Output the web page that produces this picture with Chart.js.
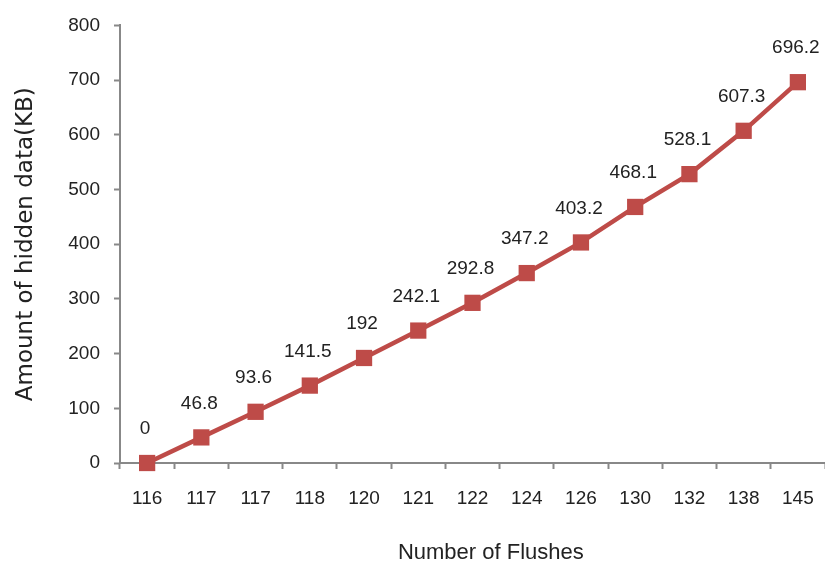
<!DOCTYPE html>
<html>
<head>
<meta charset="utf-8">
<script src="https://cdn.jsdelivr.net/npm/chart.js@4"></script>
<style>
  html, body { margin: 0; padding: 0; background: #fff; }
  #wrap { width: 825px; height: 567px; }
</style>
</head>
<body>
<div id="wrap"><canvas id="myChart"></canvas></div>
<script>
// data
let flushes = ['116', '117', '117', '118', '120', '121', '122', '124', '126', '130', '132', '138', '145'];
let hidden = [0, 46.8, 93.6, 141.5, 192, 242.1, 292.8, 347.2, 403.2, 468.1, 528.1, 607.3, 696.2];
let yTicks = [0, 100, 200, 300, 400, 500, 600, 700, 800];

let red = '#BE4B48';
let fontName = '"Liberation Sans", "DejaVu Sans", sans-serif';

// value labels above each marker
let valueLabels = {
    id: 'valueLabels',
    afterDatasetsDraw(chart) {
        let ctx = chart.ctx;
        let meta = chart.getDatasetMeta(0);
        ctx.save();
        ctx.font = '19px ' + fontName;
        ctx.fillStyle = '#222';
        ctx.textAlign = 'center';
        ctx.textBaseline = 'middle';
        meta.data.forEach(function (pt, i) {
            ctx.fillText(String(hidden[i]), pt.x - 2, pt.y - 34);
        });
        ctx.restore();
    }
};

new Chart('myChart', {
    type: 'line',
    data: {
        labels: flushes,
        datasets: [{
            label: 'hidden data',
            data: hidden,
            borderColor: red,
            backgroundColor: red,
            borderWidth: 4.5,
            pointStyle: 'rect',
            pointRadius: 11.5,
            pointBorderWidth: 0,
            pointBackgroundColor: red,
            tension: 0,
            clip: false
        }]
    },
    options: {
        responsive: true,
        maintainAspectRatio: false,
        animation: false,
        layout: { autoPadding: false, padding: { top: 25, right: -2, left: 0, bottom: 0 } },
        plugins: {
            legend: { display: false },
            tooltip: { enabled: false }
        },
        scales: {
            x: {
                offset: true,
                grid: {
                    offset: true,
                    drawOnChartArea: false,
                    tickLength: 6,
                    color: '#888',
                    tickWidth: 2
                },
                border: { color: '#888', width: 2 },
                ticks: {
                    color: '#222',
                    font: { family: fontName, size: 19 },
                    padding: 18,
                    maxRotation: 0,
                    autoSkip: false
                },
                title: {
                    display: true,
                    text: '\u00a0\u00a0\u00a0\u00a0\u00a0\u00a0Number of Flushes',
                    color: '#222',
                    font: { family: fontName, size: 22 },
                    padding: { top: 0, bottom: 1 }
                },
                afterFit(axis) {
                    axis.height = 104;
                    axis.paddingLeft = 0;
                    axis.paddingRight = 0;
                }
            },
            y: {
                min: 0,
                max: 800,
                afterBuildTicks(axis) {
                    axis.ticks = yTicks.map(function (v) { return { value: v }; });
                },
                grid: {
                    drawOnChartArea: false,
                    tickLength: 6,
                    color: '#888',
                    tickWidth: 2
                },
                border: { color: '#888', width: 2 },
                ticks: {
                    color: '#222',
                    font: { family: fontName, size: 19 },
                    padding: 14
                },
                title: {
                    display: true,
                    text: 'Amount of hidden data(KB)',
                    color: '#222',
                    font: { family: '"DejaVu Sans", sans-serif', size: 23 },
                    padding: { top: 12, bottom: 0 }
                },
                afterFit(axis) { axis.width = 120; }
            }
        }
    },
    plugins: [valueLabels]
});
</script>
</body>
</html>
